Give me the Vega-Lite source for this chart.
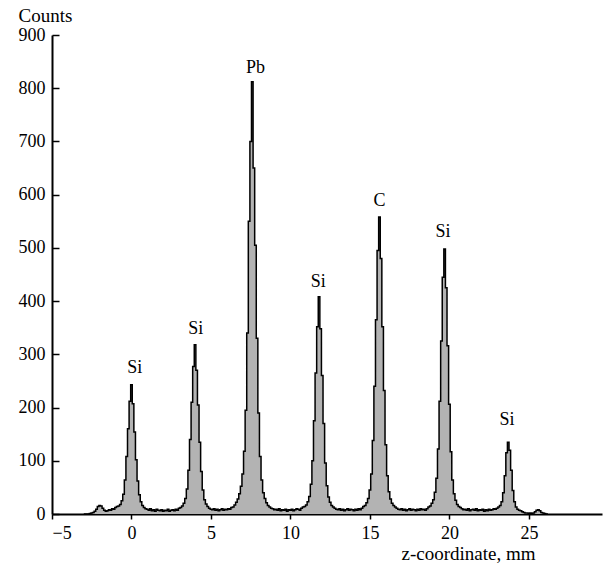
{
  "$schema": "https://vega.github.io/schema/vega-lite/v6.json",
  "width": 550,
  "height": 479,
  "autosize": "none",
  "padding": {"left": 52, "top": 35, "right": 4, "bottom": 53},
  "background": "white",
  "config": {
    "view": {"stroke": null},
    "font": "Liberation Serif",
    "axis": {
      "grid": false,
      "domainColor": "black",
      "domainWidth": 2,
      "tickColor": "black",
      "tickWidth": 1.5,
      "labelFont": "Liberation Serif",
      "labelFontSize": 18,
      "labelColor": "black",
      "titleFont": "Liberation Serif",
      "titleFontSize": 19,
      "titleFontWeight": "normal",
      "titleColor": "black"
    }
  },
  "datasets": {
    "hist": [
      {"z": -3.0, "c": 0}, {"z": -2.9, "c": 0}, {"z": -2.8, "c": 0}, {"z": -2.7, "c": 0}, {"z": -2.6, "c": 1},
      {"z": -2.5, "c": 2}, {"z": -2.4, "c": 3}, {"z": -2.3, "c": 5}, {"z": -2.2, "c": 9}, {"z": -2.1, "c": 14},
      {"z": -2.0, "c": 16}, {"z": -1.9, "c": 15}, {"z": -1.8, "c": 11}, {"z": -1.7, "c": 7}, {"z": -1.6, "c": 5},
      {"z": -1.5, "c": 6}, {"z": -1.4, "c": 8}, {"z": -1.3, "c": 7}, {"z": -1.2, "c": 10}, {"z": -1.1, "c": 9},
      {"z": -1.0, "c": 12}, {"z": -0.9, "c": 14}, {"z": -0.8, "c": 15}, {"z": -0.7, "c": 18}, {"z": -0.6, "c": 25},
      {"z": -0.5, "c": 37}, {"z": -0.4, "c": 64}, {"z": -0.3, "c": 108}, {"z": -0.2, "c": 160}, {"z": -0.1, "c": 212},
      {"z": 0.0, "c": 243}, {"z": 0.1, "c": 207}, {"z": 0.2, "c": 154}, {"z": 0.3, "c": 102}, {"z": 0.4, "c": 62},
      {"z": 0.5, "c": 36}, {"z": 0.6, "c": 23}, {"z": 0.7, "c": 16}, {"z": 0.8, "c": 12}, {"z": 0.9, "c": 10},
      {"z": 1.0, "c": 9}, {"z": 1.1, "c": 7}, {"z": 1.2, "c": 10}, {"z": 1.3, "c": 6}, {"z": 1.4, "c": 8},
      {"z": 1.5, "c": 5}, {"z": 1.6, "c": 9}, {"z": 1.7, "c": 7}, {"z": 1.8, "c": 6}, {"z": 1.9, "c": 8},
      {"z": 2.0, "c": 5}, {"z": 2.1, "c": 7}, {"z": 2.2, "c": 6}, {"z": 2.3, "c": 9}, {"z": 2.4, "c": 5},
      {"z": 2.5, "c": 7}, {"z": 2.6, "c": 8}, {"z": 2.7, "c": 6}, {"z": 2.8, "c": 9}, {"z": 2.9, "c": 7},
      {"z": 3.0, "c": 11}, {"z": 3.1, "c": 12}, {"z": 3.2, "c": 15}, {"z": 3.3, "c": 20}, {"z": 3.4, "c": 29},
      {"z": 3.5, "c": 47}, {"z": 3.6, "c": 82}, {"z": 3.7, "c": 140}, {"z": 3.8, "c": 210}, {"z": 3.9, "c": 277},
      {"z": 4.0, "c": 318}, {"z": 4.1, "c": 270}, {"z": 4.2, "c": 205}, {"z": 4.3, "c": 135}, {"z": 4.4, "c": 80},
      {"z": 4.5, "c": 45}, {"z": 4.6, "c": 27}, {"z": 4.7, "c": 19}, {"z": 4.8, "c": 14}, {"z": 4.9, "c": 11},
      {"z": 5.0, "c": 9}, {"z": 5.1, "c": 8}, {"z": 5.2, "c": 10}, {"z": 5.3, "c": 7}, {"z": 5.4, "c": 9},
      {"z": 5.5, "c": 6}, {"z": 5.6, "c": 8}, {"z": 5.7, "c": 10}, {"z": 5.8, "c": 7}, {"z": 5.9, "c": 9},
      {"z": 6.0, "c": 8}, {"z": 6.1, "c": 10}, {"z": 6.2, "c": 9}, {"z": 6.3, "c": 12}, {"z": 6.4, "c": 13},
      {"z": 6.5, "c": 17}, {"z": 6.6, "c": 22}, {"z": 6.7, "c": 28}, {"z": 6.8, "c": 38}, {"z": 6.9, "c": 52},
      {"z": 7.0, "c": 75}, {"z": 7.1, "c": 118}, {"z": 7.2, "c": 195}, {"z": 7.3, "c": 340}, {"z": 7.4, "c": 550},
      {"z": 7.5, "c": 700}, {"z": 7.6, "c": 812}, {"z": 7.7, "c": 650}, {"z": 7.8, "c": 505}, {"z": 7.9, "c": 330},
      {"z": 8.0, "c": 190}, {"z": 8.1, "c": 108}, {"z": 8.2, "c": 64}, {"z": 8.3, "c": 40}, {"z": 8.4, "c": 29},
      {"z": 8.5, "c": 21}, {"z": 8.6, "c": 16}, {"z": 8.7, "c": 13}, {"z": 8.8, "c": 11}, {"z": 8.9, "c": 10},
      {"z": 9.0, "c": 8}, {"z": 9.1, "c": 9}, {"z": 9.2, "c": 7}, {"z": 9.3, "c": 10}, {"z": 9.4, "c": 6},
      {"z": 9.5, "c": 8}, {"z": 9.6, "c": 7}, {"z": 9.7, "c": 9}, {"z": 9.8, "c": 5}, {"z": 9.9, "c": 8},
      {"z": 10.0, "c": 7}, {"z": 10.1, "c": 9}, {"z": 10.2, "c": 6}, {"z": 10.3, "c": 8}, {"z": 10.4, "c": 10},
      {"z": 10.5, "c": 9}, {"z": 10.6, "c": 7}, {"z": 10.7, "c": 11}, {"z": 10.8, "c": 13}, {"z": 10.9, "c": 14},
      {"z": 11.0, "c": 17}, {"z": 11.1, "c": 23}, {"z": 11.2, "c": 33}, {"z": 11.3, "c": 56}, {"z": 11.4, "c": 100},
      {"z": 11.5, "c": 175}, {"z": 11.6, "c": 265}, {"z": 11.7, "c": 352}, {"z": 11.8, "c": 408}, {"z": 11.9, "c": 348},
      {"z": 12.0, "c": 260}, {"z": 12.1, "c": 170}, {"z": 12.2, "c": 96}, {"z": 12.3, "c": 53}, {"z": 12.4, "c": 32},
      {"z": 12.5, "c": 22}, {"z": 12.6, "c": 16}, {"z": 12.7, "c": 13}, {"z": 12.8, "c": 11}, {"z": 12.9, "c": 9},
      {"z": 13.0, "c": 8}, {"z": 13.1, "c": 10}, {"z": 13.2, "c": 7}, {"z": 13.3, "c": 9}, {"z": 13.4, "c": 6},
      {"z": 13.5, "c": 8}, {"z": 13.6, "c": 10}, {"z": 13.7, "c": 7}, {"z": 13.8, "c": 9}, {"z": 13.9, "c": 8},
      {"z": 14.0, "c": 6}, {"z": 14.1, "c": 9}, {"z": 14.2, "c": 7}, {"z": 14.3, "c": 10}, {"z": 14.4, "c": 8},
      {"z": 14.5, "c": 11}, {"z": 14.6, "c": 14}, {"z": 14.7, "c": 16}, {"z": 14.8, "c": 21}, {"z": 14.9, "c": 29},
      {"z": 15.0, "c": 45}, {"z": 15.1, "c": 75}, {"z": 15.2, "c": 138}, {"z": 15.3, "c": 240}, {"z": 15.4, "c": 365},
      {"z": 15.5, "c": 495}, {"z": 15.6, "c": 558}, {"z": 15.7, "c": 480}, {"z": 15.8, "c": 352}, {"z": 15.9, "c": 232},
      {"z": 16.0, "c": 130}, {"z": 16.1, "c": 72}, {"z": 16.2, "c": 42}, {"z": 16.3, "c": 28}, {"z": 16.4, "c": 20},
      {"z": 16.5, "c": 16}, {"z": 16.6, "c": 13}, {"z": 16.7, "c": 11}, {"z": 16.8, "c": 9}, {"z": 16.9, "c": 8},
      {"z": 17.0, "c": 10}, {"z": 17.1, "c": 7}, {"z": 17.2, "c": 9}, {"z": 17.3, "c": 6}, {"z": 17.4, "c": 8},
      {"z": 17.5, "c": 10}, {"z": 17.6, "c": 7}, {"z": 17.7, "c": 9}, {"z": 17.8, "c": 8}, {"z": 17.9, "c": 6},
      {"z": 18.0, "c": 9}, {"z": 18.1, "c": 7}, {"z": 18.2, "c": 10}, {"z": 18.3, "c": 8}, {"z": 18.4, "c": 9},
      {"z": 18.5, "c": 7}, {"z": 18.6, "c": 10}, {"z": 18.7, "c": 13}, {"z": 18.8, "c": 15}, {"z": 18.9, "c": 20},
      {"z": 19.0, "c": 27}, {"z": 19.1, "c": 41}, {"z": 19.2, "c": 67}, {"z": 19.3, "c": 122}, {"z": 19.4, "c": 212},
      {"z": 19.5, "c": 325}, {"z": 19.6, "c": 445}, {"z": 19.7, "c": 498}, {"z": 19.8, "c": 425}, {"z": 19.9, "c": 316},
      {"z": 20.0, "c": 206}, {"z": 20.1, "c": 117}, {"z": 20.2, "c": 64}, {"z": 20.3, "c": 38}, {"z": 20.4, "c": 26},
      {"z": 20.5, "c": 18}, {"z": 20.6, "c": 14}, {"z": 20.7, "c": 12}, {"z": 20.8, "c": 10}, {"z": 20.9, "c": 8},
      {"z": 21.0, "c": 9}, {"z": 21.1, "c": 7}, {"z": 21.2, "c": 10}, {"z": 21.3, "c": 6}, {"z": 21.4, "c": 8},
      {"z": 21.5, "c": 9}, {"z": 21.6, "c": 7}, {"z": 21.7, "c": 10}, {"z": 21.8, "c": 6}, {"z": 21.9, "c": 8},
      {"z": 22.0, "c": 7}, {"z": 22.1, "c": 9}, {"z": 22.2, "c": 5}, {"z": 22.3, "c": 8}, {"z": 22.4, "c": 6},
      {"z": 22.5, "c": 9}, {"z": 22.6, "c": 7}, {"z": 22.7, "c": 8}, {"z": 22.8, "c": 10}, {"z": 22.9, "c": 9},
      {"z": 23.0, "c": 11}, {"z": 23.1, "c": 13}, {"z": 23.2, "c": 16}, {"z": 23.3, "c": 23}, {"z": 23.4, "c": 40},
      {"z": 23.5, "c": 72}, {"z": 23.6, "c": 115}, {"z": 23.7, "c": 135}, {"z": 23.8, "c": 120}, {"z": 23.9, "c": 82},
      {"z": 24.0, "c": 44}, {"z": 24.1, "c": 23}, {"z": 24.2, "c": 13}, {"z": 24.3, "c": 9}, {"z": 24.4, "c": 7},
      {"z": 24.5, "c": 6}, {"z": 24.6, "c": 4}, {"z": 24.7, "c": 3}, {"z": 24.8, "c": 2}, {"z": 24.9, "c": 2},
      {"z": 25.0, "c": 1}, {"z": 25.1, "c": 2}, {"z": 25.2, "c": 1}, {"z": 25.3, "c": 2}, {"z": 25.4, "c": 4},
      {"z": 25.5, "c": 7}, {"z": 25.6, "c": 8}, {"z": 25.7, "c": 6}, {"z": 25.8, "c": 3}, {"z": 25.9, "c": 2},
      {"z": 26.0, "c": 1}, {"z": 26.1, "c": 0}, {"z": 26.2, "c": 0}
    ],
    "labels": [
      {"z": 0.2, "c": 265, "t": "Si"},
      {"z": 4.05, "c": 338, "t": "Si"},
      {"z": 7.8, "c": 829, "t": "Pb"},
      {"z": 11.75, "c": 427, "t": "Si"},
      {"z": 15.6, "c": 579, "t": "C"},
      {"z": 19.6, "c": 521, "t": "Si"},
      {"z": 23.62, "c": 167, "t": "Si"}
    ]
  },
  "layer": [
    {
      "data": {"name": "hist"},
      "mark": {"type": "area", "interpolate": "step", "color": "#b3b3b3"},
      "encoding": {
        "x": {
          "field": "z", "type": "quantitative",
          "scale": {"domain": [-5, 29.6], "nice": false, "zero": false},
          "axis": {
            "values": [-5, 0, 5, 10, 15, 20, 25],
            "tickSize": 5,
            "labelPadding": 5,
            "title": "z-coordinate, mm",
            "titleAlign": "center",
            "titleBaseline": "alphabetic",
            "titleX": 416,
            "titleY": 45
          }
        },
        "y": {
          "field": "c", "type": "quantitative",
          "scale": {"domain": [0, 900], "nice": false},
          "axis": {
            "values": [0, 100, 200, 300, 400, 500, 600, 700, 800, 900],
            "tickSize": -7,
            "labelPadding": 14,
            "title": "Counts",
            "titleAngle": 0,
            "titleAlign": "left",
            "titleBaseline": "alphabetic",
            "titleX": -34,
            "titleY": -14
          }
        }
      }
    },
    {
      "data": {"name": "hist"},
      "mark": {"type": "line", "interpolate": "step", "color": "black", "strokeWidth": 1.5},
      "encoding": {
        "x": {"field": "z", "type": "quantitative"},
        "y": {"field": "c", "type": "quantitative"}
      }
    },
    {
      "data": {"name": "labels"},
      "mark": {"type": "text", "font": "Liberation Serif", "fontSize": 18, "color": "black", "align": "center", "baseline": "alphabetic"},
      "encoding": {
        "x": {"field": "z", "type": "quantitative"},
        "y": {"field": "c", "type": "quantitative"},
        "text": {"field": "t"}
      }
    }
  ]
}
